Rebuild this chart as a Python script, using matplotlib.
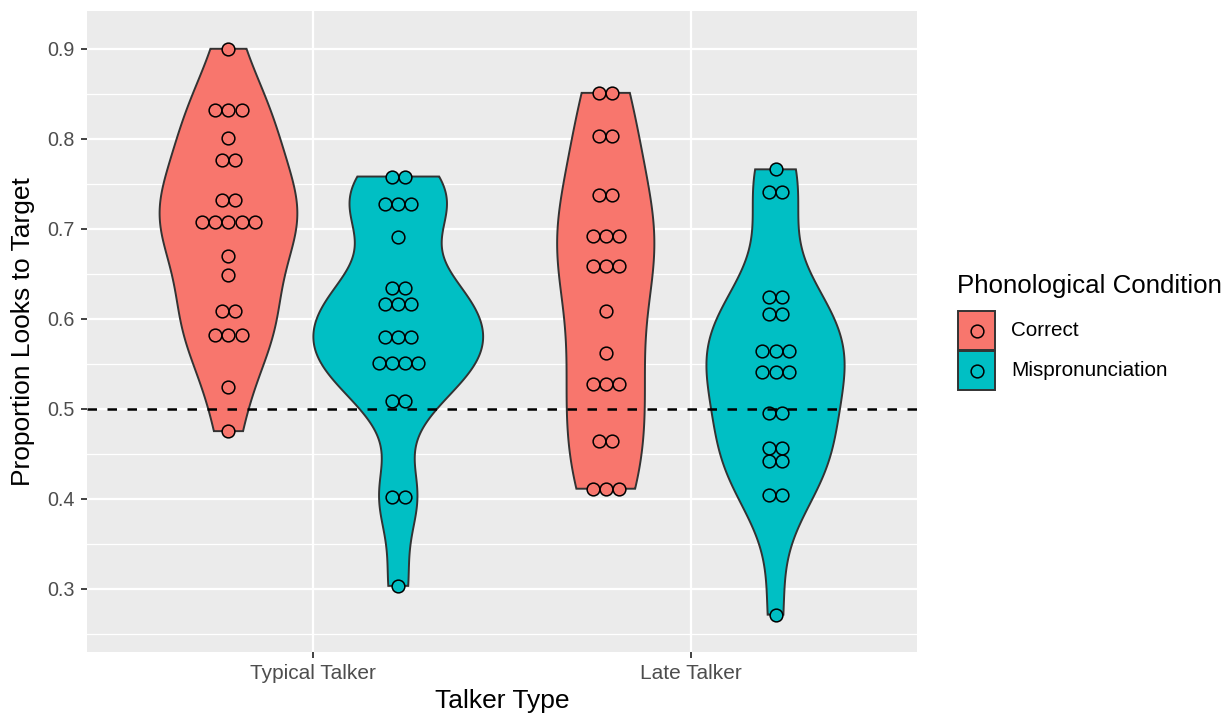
"""Violin + dot plot: proportion of looks to target by talker type and phonological condition."""
import numpy as np
import matplotlib
matplotlib.use("Agg")
import matplotlib.pyplot as plt
from matplotlib.patches import Rectangle, Polygon

plt.rcParams['font.family'] = ['Liberation Sans', 'DejaVu Sans']

# ---- data ----
talker_types = ['Typical Talker', 'Late Talker']
conditions = ['Correct', 'Mispronunciation']
cond_colors = ['#F8766D', '#00BFC4']

typical_correct = [0.900, 0.832, 0.832, 0.832, 0.801, 0.776, 0.776, 0.732, 0.732,
                   0.708, 0.708, 0.708, 0.708, 0.708, 0.670, 0.648, 0.609, 0.609,
                   0.582, 0.582, 0.582, 0.524, 0.475]
typical_mispron = [0.758, 0.758, 0.727, 0.727, 0.727, 0.691, 0.634, 0.634,
                   0.616, 0.616, 0.616, 0.580, 0.580, 0.580, 0.551, 0.551, 0.551, 0.551,
                   0.509, 0.509, 0.402, 0.402, 0.303]
late_correct = [0.851, 0.851, 0.803, 0.803, 0.738, 0.738, 0.692, 0.692, 0.692,
                0.659, 0.659, 0.659, 0.609, 0.562, 0.527, 0.527, 0.527,
                0.464, 0.464, 0.411, 0.411, 0.411]
late_mispron = [0.766, 0.741, 0.741, 0.624, 0.624, 0.605, 0.605, 0.564, 0.564, 0.564,
                0.541, 0.541, 0.541, 0.495, 0.495, 0.456, 0.456, 0.442, 0.442,
                0.404, 0.404, 0.271]

groups = {
    (0, 0): typical_correct, (0, 1): typical_mispron,
    (1, 0): late_correct, (1, 1): late_mispron,
}
chance = 0.5


def bw_nrd0(x):
    x = np.asarray(x)
    hi = np.std(x, ddof=1)
    q75, q25 = np.percentile(x, [75, 25])
    lo = min(hi, (q75 - q25) / 1.34)
    return 0.9 * lo * len(x) ** -0.2


def kde(x, grid):
    x = np.asarray(x)
    bw = bw_nrd0(x)
    z = (grid[:, None] - x[None, :]) / bw
    return np.exp(-0.5 * z ** 2).sum(axis=1) / (len(x) * bw * np.sqrt(2 * np.pi))


fig = plt.figure(figsize=(12.25, 7.14), dpi=100)
ax = fig.add_axes([87 / 1225, 1 - 652 / 714, (917 - 87) / 1225, (652 - 11) / 714])
ax.set_facecolor('#EBEBEB')
for s in ax.spines.values():
    s.set_visible(False)

ax.set_xlim(0.4, 2.6)
ax.set_ylim(0.2295, 0.942)
yt = [0.3, 0.4, 0.5, 0.6, 0.7, 0.8, 0.9]
ax.set_yticks(yt)
ax.set_yticklabels([f'{v:.1f}' for v in yt])
ax.set_yticks(np.arange(0.25, 0.95, 0.1), minor=True)
ax.set_xticks([1, 2])
ax.set_xticklabels(talker_types)
ax.grid(which='major', color='white', linewidth=1.6)
ax.grid(which='minor', axis='y', color='white', linewidth=0.9)
ax.set_axisbelow(True)
ax.tick_params(which='major', length=4.3, width=1.3, color='#333333',
               labelcolor='#4D4D4D', pad=4.5)
ax.tick_params(axis='x', labelsize=15)
ax.tick_params(axis='y', labelsize=14.2)
ax.tick_params(which='minor', length=0)
ax.set_xlabel('Talker Type', fontsize=19)
ax.set_ylabel('Proportion Looks to Target', fontsize=19)
ax.xaxis.set_label_coords(0.5, -0.0577)
ax.yaxis.set_label_coords(-0.0771, 0.5)
ax.yaxis.label.set_va('center')

dodge = 0.225
vwidth = 0.45
# violins (scale = "area": common scaling across all groups)
dens = {}
for key, vals in groups.items():
    grid = np.linspace(min(vals), max(vals), 512)
    dens[key] = (grid, kde(vals, grid))
dmax = max(d.max() for _, d in dens.values())
for (ti, ci), (grid, d) in dens.items():
    xc = ti + 1 + (ci - 0.5) * 2 * dodge
    hw = d / dmax * vwidth / 2
    xs = np.concatenate([xc + hw, (xc - hw)[::-1]])
    ys = np.concatenate([grid, grid[::-1]])
    ax.add_patch(Polygon(np.column_stack([xs, ys]), closed=True,
                         facecolor=cond_colors[ci], edgecolor='#333333',
                         linewidth=1.4, zorder=2))

# dot stacks (centered)
step = 0.0348
for (ti, ci), vals in groups.items():
    xc = ti + 1 + (ci - 0.5) * 2 * dodge
    uniq, counts = np.unique(vals, return_counts=True)
    for v, n in zip(uniq, counts):
        xs = xc + (np.arange(n) - (n - 1) / 2) * step
        ax.scatter(xs, np.full(n, v), s=84, facecolor=cond_colors[ci],
                   edgecolor='black', linewidths=1.1, zorder=3)

ax.axhline(chance, color='black', linewidth=1.8, dashes=(3.8, 4.2), zorder=4)

# legend drawn in pixel space
lg = fig.add_axes([0, 0, 1, 1], facecolor='none')
lg.set_xlim(0, 1225)
lg.set_ylim(714, 0)
lg.axis('off')
lg.text(957, 286, 'Phonological Condition', fontsize=18.6, va='center', ha='left')
for i, (lab, col) in enumerate(zip(conditions, cond_colors)):
    y0 = 311 + i * 40
    lg.add_patch(Rectangle((958, y0), 37, 39, facecolor=col, edgecolor='#333333', linewidth=1.4))
    lg.scatter([976.5], [y0 + 19.5], s=84, facecolor=col, edgecolor='black', linewidths=1.1)
    lg.text(1011, y0 + 20, lab, fontsize=14.9, va='center', ha='left')

fig.savefig('out.png', dpi=100)
